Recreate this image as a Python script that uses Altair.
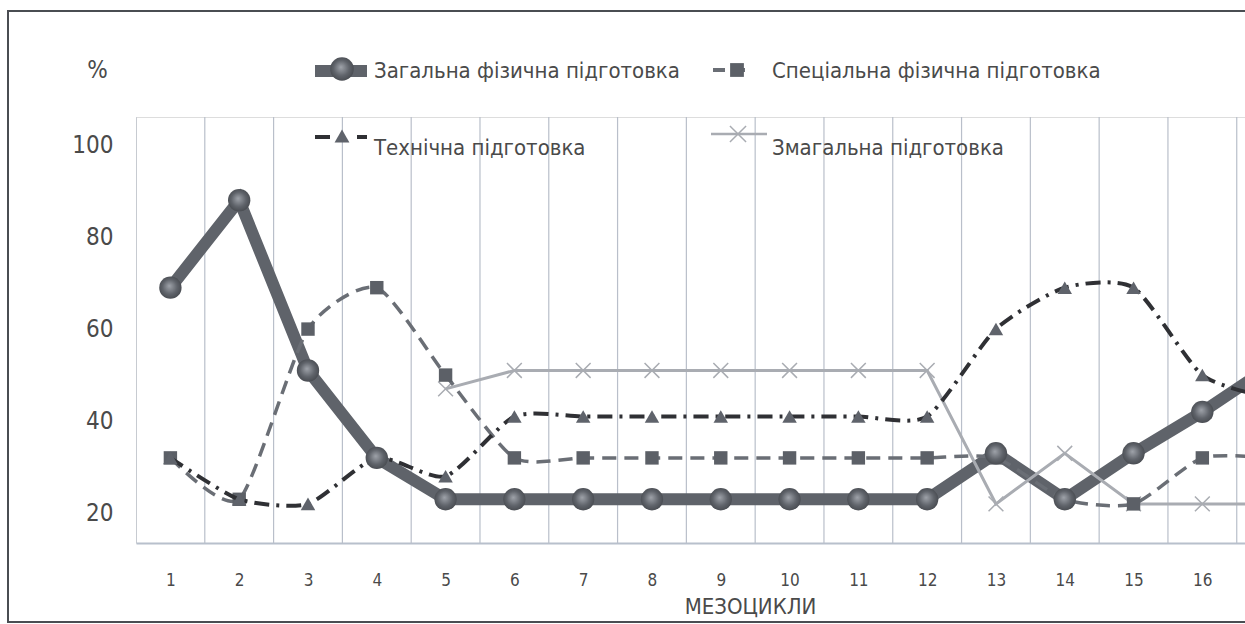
import altair as alt
import pandas as pd

# ---- data ----
categories = list(range(1, 18))
series_names = [
    "Загальна фізична підготовка",
    "Спеціальна фізична підготовка",
    "Технічна підготовка",
    "Змагальна підготовка",
]
zagalna = [69, 88, 51, 32, 23, 23, 23, 23, 23, 23, 23, 23, 33, 23, 33, 42, 52]
specialna = [32, 23, 60, 69, 50, 32, 32, 32, 32, 32, 32, 32, 32, 23, 22, 32, 32]
tekhnichna = [32, 23, 22, 32, 28, 41, 41, 41, 41, 41, 41, 41, 60, 69, 69, 50, 45]
zmagalna = [None, None, None, None, 47, 51, 51, 51, 51, 51, 51, 51, 22, 33, 22, 22, 22]
y_ticks = [20, 40, 60, 80, 100]
x_title = "МЕЗОЦИКЛИ"
y_title = "%"

FONT = "Liberation Sans Narrow, DejaVu Sans Condensed, Arial Narrow, sans-serif"
TXT = "#4a4a4a"

def frame(vals):
    return pd.DataFrame([{"x": c, "v": v} for c, v in zip(categories, vals) if v is not None])

xscale = alt.Scale(domain=[0.5, 16.62], nice=False, zero=False)
yscale = alt.Scale(domain=[13.5, 106.1], nice=False, zero=False)

X = alt.X("x:Q", scale=xscale, axis=alt.Axis(
    values=[c for c in categories if c <= 16], grid=False, ticks=False, tickSize=0,
    domain=True, domainColor="#b8c0cc", domainWidth=2,
    labelFont=FONT, labelFontSize=17, labelColor=TXT, labelPadding=37,
    labelBaseline="middle", labelFlush=False,
    title=x_title, titleFont=FONT, titleFontSize=22, titleFontWeight="normal",
    titleColor=TXT, titleX=614, titleY=63, titleAlign="center", titleBaseline="middle"))
Y = alt.Y("v:Q", scale=yscale, axis=alt.Axis(
    values=y_ticks, grid=False, ticks=False, tickSize=0, domain=False,
    labelFont=FONT, labelFontSize=24, labelColor=TXT, labelPadding=23,
    title=y_title, titleAngle=0, titleFont=FONT, titleFontSize=24,
    titleFontWeight="normal", titleColor=TXT, titleX=-39, titleY=-47,
    titleAlign="center", titleBaseline="middle"))

sphere = alt.RadialGradient(
    gradient="radial",
    stops=[alt.GradientStop(color="#9fa3aa", offset=0),
           alt.GradientStop(color="#5f636a", offset=0.55),
           alt.GradientStop(color="#404348", offset=1)],
    x1=0.45, y1=0.42, r1=0, x2=0.5, y2=0.5, r2=0.6)

C_ZAG = "#5f636a"
C_SPEC = "#6a6e75"
C_TECH = "#2f3034"
C_TRI = "#5f636b"
C_ZMAG = "#a9acb2"
XSHAPE = "M-1,-1L1,1M-1,1L1,-1"

# grid lines at category boundaries
grid_df = pd.DataFrame({"x": [c - 0.5 for c in categories]})
grid = alt.Chart(grid_df).mark_rule(color="#b9bfca", strokeWidth=1.2, clip=True).encode(x=X)

d_zag = frame(zagalna)
d_spec = frame(specialna)
d_tech = frame(tekhnichna)
d_zmag = frame(zmagalna)

zmag_line = alt.Chart(d_zmag).mark_line(color=C_ZMAG, strokeWidth=3, clip=True).encode(x=X, y=Y)
zmag_pts = alt.Chart(d_zmag).mark_point(shape=XSHAPE, size=220, color=C_ZMAG,
                                        strokeWidth=1.5, filled=False, opacity=1,
                                        clip=True).encode(x=X, y=Y)

spec_line = alt.Chart(d_spec).mark_line(color=C_SPEC, strokeWidth=3.5, strokeDash=[14, 8],
                                        interpolate="cardinal", tension=0.35,
                                        clip=True).encode(x=X, y=Y)
spec_pts = alt.Chart(d_spec).mark_point(shape="square", size=180, filled=True, fill="#5c6067",
                                        opacity=1, clip=True).encode(x=X, y=Y)

tech_line = alt.Chart(d_tech).mark_line(color=C_TECH, strokeWidth=4, strokeDash=[15, 7, 3, 7],
                                        interpolate="cardinal", tension=0.35,
                                        clip=True).encode(x=X, y=Y)
tech_pts = alt.Chart(d_tech).mark_point(shape="triangle-up", size=210, filled=True, fill=C_TRI,
                                        opacity=1, clip=True).encode(x=X, y=Y)

zag_line = alt.Chart(d_zag).mark_line(color=C_ZAG, strokeWidth=12, clip=True).encode(x=X, y=Y)
zag_pts = alt.Chart(d_zag).mark_circle(fill=sphere, size=500, opacity=1, clip=True).encode(x=X, y=Y)

one = alt.Data(values=[{"a": 1}])

def rule(x1, x2, y, color, width, dash=None):
    kw = dict(color=color, strokeWidth=width)
    if dash:
        kw["strokeDash"] = dash
    return alt.Chart(one).mark_rule(**kw).encode(
        x=alt.value(x1), x2=alt.value(x2), y=alt.value(y))

def label(x, y, text):
    return alt.Chart(one).mark_text(align="left", baseline="middle", font=FONT, fontSize=22,
                                    color=TXT).encode(x=alt.value(x), y=alt.value(y),
                                                      text=alt.value(text))

legend = [
    rule(179, 231, -46, C_ZAG, 12),
    alt.Chart(one).mark_circle(fill=sphere, size=560, opacity=1).encode(x=alt.value(206), y=alt.value(-48)),
    label(238, -46, series_names[0]),
    rule(577, 617, -47, C_SPEC, 4, [12, 8]),
    alt.Chart(one).mark_point(shape="square", size=190, filled=True, fill="#5c6067", opacity=1).encode(
        x=alt.value(601), y=alt.value(-47)),
    label(636, -46, series_names[1]),
    rule(179, 231, 20, C_TECH, 4, [15, 27]),
    alt.Chart(one).mark_point(shape="triangle-up", size=220, filled=True, fill=C_TRI, opacity=1).encode(
        x=alt.value(206), y=alt.value(19)),
    label(238, 31, series_names[2]),
    rule(575, 631, 17, C_ZMAG, 2.5),
    alt.Chart(one).mark_point(shape=XSHAPE, size=260, color=C_ZMAG, strokeWidth=1.5, opacity=1).encode(
        x=alt.value(602), y=alt.value(17)),
    label(636, 31, series_names[3]),
]

border = alt.Chart(one).mark_rect(fill=None, stroke="#4a4d52", strokeWidth=2).encode(
    x=alt.value(-128), x2=alt.value(1130), y=alt.value(-106), y2=alt.value(505))

chart = alt.layer(
    grid, zag_line, zmag_line, zmag_pts, spec_line, spec_pts, tech_line, tech_pts, zag_pts,
    *legend, border
).properties(
    width=1109, height=426,
    padding={"left": 136, "top": 117, "right": 0, "bottom": 81},
    autosize="none",
).configure_view(stroke=None).configure(background="white")

chart.save("out.html", embed_options={"renderer": "svg", "actions": False})
